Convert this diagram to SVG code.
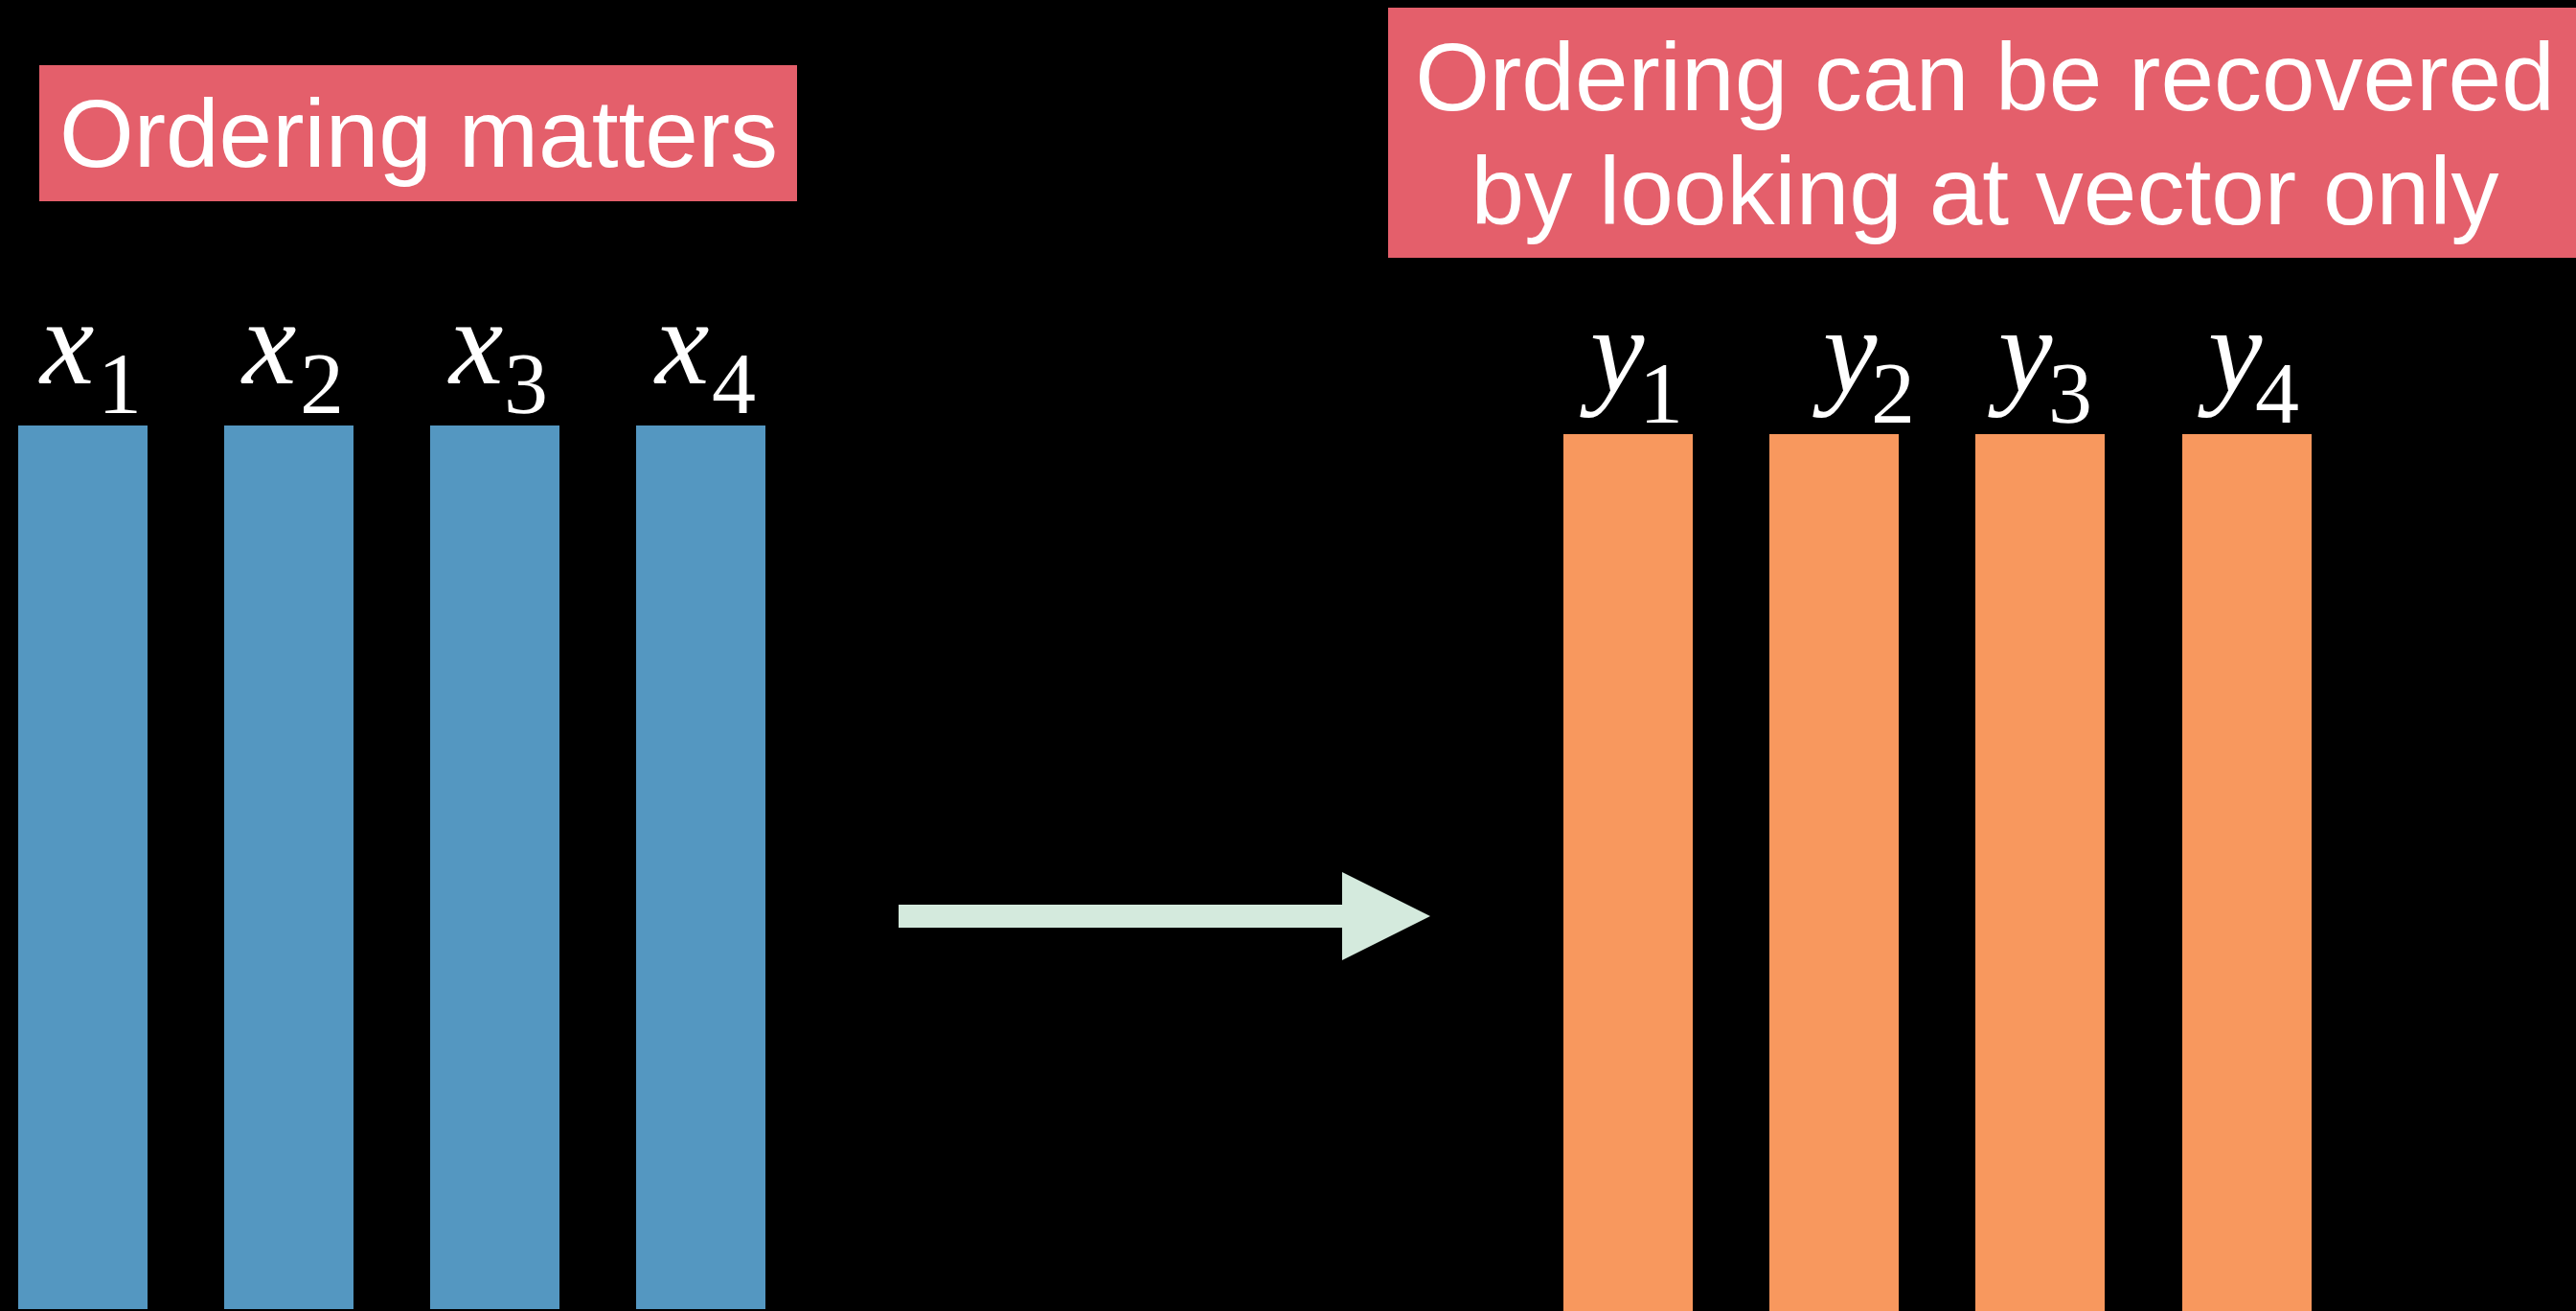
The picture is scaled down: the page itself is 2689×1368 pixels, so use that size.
<svg xmlns="http://www.w3.org/2000/svg" width="2689" height="1368" viewBox="0 0 2689 1368">
<style>
.bg{fill:#000}
.banner{fill:#E45F6B}
.btxt{font-family:"Liberation Sans",Arial,sans-serif;font-size:100px;fill:#fff;text-anchor:middle}
.xbar{fill:#5497C1}
.ybar{fill:#F8985E}
.lbl{font-family:"Liberation Serif","Times New Roman",serif;fill:#fff}
.var{font-style:italic;font-size:127px}
.sub{font-style:normal;font-size:92px}
.arrow{fill:#D4EADD}
</style>
<rect class="bg" x="0" y="0" width="2689" height="1368"/>
<g id="title-left">
<rect class="banner" x="41" y="68" width="791" height="142"/>
<text class="btxt" x="437" y="174">Ordering matters</text>
</g>
<g id="title-right">
<rect class="banner" x="1449" y="8" width="1240" height="261"/>
<text class="btxt" x="2072" y="115">Ordering can be recovered</text>
<text class="btxt" x="2072" y="234">by looking at vector only</text>
</g>
<g id="x1"><rect class="xbar" x="19" y="444" width="135" height="922"/><text class="lbl"><tspan class="var" x="42" y="400">x</tspan><tspan class="sub" x="102" y="431">1</tspan></text></g>
<g id="x2"><rect class="xbar" x="234" y="444" width="135" height="922"/><text class="lbl"><tspan class="var" x="253" y="400">x</tspan><tspan class="sub" x="313" y="431">2</tspan></text></g>
<g id="x3"><rect class="xbar" x="449" y="444" width="135" height="922"/><text class="lbl"><tspan class="var" x="469" y="400">x</tspan><tspan class="sub" x="526" y="431">3</tspan></text></g>
<g id="x4"><rect class="xbar" x="664" y="444" width="135" height="922"/><text class="lbl"><tspan class="var" x="684" y="400">x</tspan><tspan class="sub" x="743" y="431">4</tspan></text></g>
<g id="y1"><rect class="ybar" x="1632" y="453" width="135" height="915"/><text class="lbl"><tspan class="var" x="1660" y="409">y</tspan><tspan class="sub" x="1711" y="441">1</tspan></text></g>
<g id="y2"><rect class="ybar" x="1847" y="453" width="135" height="915"/><text class="lbl"><tspan class="var" x="1903" y="409">y</tspan><tspan class="sub" x="1953" y="441">2</tspan></text></g>
<g id="y3"><rect class="ybar" x="2062" y="453" width="135" height="915"/><text class="lbl"><tspan class="var" x="2086" y="409">y</tspan><tspan class="sub" x="2138" y="441">3</tspan></text></g>
<g id="y4"><rect class="ybar" x="2278" y="453" width="135" height="915"/><text class="lbl"><tspan class="var" x="2305" y="409">y</tspan><tspan class="sub" x="2354" y="441">4</tspan></text></g>
<g id="connectors">
<polygon class="arrow" points="938,944 1401,944 1401,910 1493,956 1401,1002 1401,968 938,968"/>
</g>
</svg>
